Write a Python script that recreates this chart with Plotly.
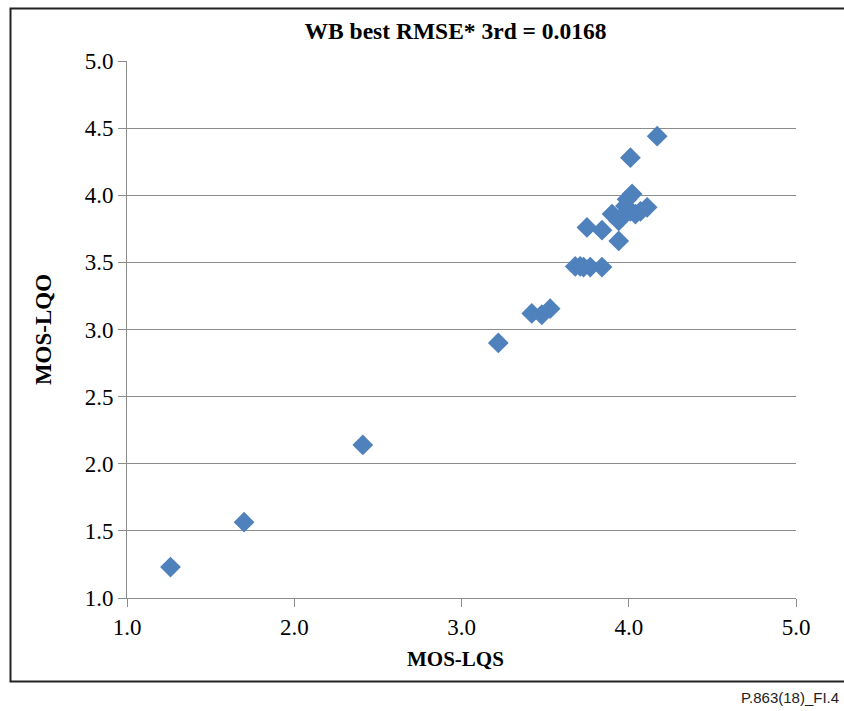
import plotly.graph_objects as go

mos_lqs = [1.26, 1.70, 2.41, 3.22, 3.42, 3.48, 3.53, 3.68, 3.71, 3.73, 3.77, 3.84,
           3.75, 3.84, 3.94, 3.90, 3.94, 3.96, 3.98, 3.99, 4.02, 4.01, 4.04, 4.07,
           4.11, 4.01, 4.17]
mos_lqo = [1.23, 1.565, 2.14, 2.90, 3.12, 3.11, 3.155, 3.47, 3.47, 3.465, 3.465, 3.465,
           3.76, 3.74, 3.66, 3.86, 3.81, 3.84, 3.92, 3.97, 4.01, 3.88, 3.86, 3.88,
           3.91, 4.28, 4.44]
tick_vals_x = [1.0, 2.0, 3.0, 4.0, 5.0]
tick_vals_y = [1.0, 1.5, 2.0, 2.5, 3.0, 3.5, 4.0, 4.5, 5.0]

W, H = 844, 711
L, R, T, B = 127, 48, 61, 113
pw, ph = W - L - R, H - T - B

def px(xp):
    return (xp - L) / pw

def py(yp):
    return 1 - (yp - T) / ph

serif = "Liberation Serif"
grey = "#8c8c8c"

fig = go.Figure(go.Scatter(
    x=mos_lqs, y=mos_lqo, mode="markers",
    marker=dict(symbol="diamond", size=16, color="#4f81bd", line=dict(width=0)),
    showlegend=False, cliponaxis=False,
))

fig.update_layout(
    width=W, height=H,
    margin=dict(l=L, r=R, t=T, b=B),
    paper_bgcolor="white", plot_bgcolor="white",
    font=dict(family=serif, color="black"),
    title=dict(text="<b>WB best RMSE* 3rd = 0.0168</b>", x=455.5 / W, xanchor="center",
               y=1 - 31 / H, yanchor="middle",
               font=dict(family=serif, size=23.5, color="black")),
    xaxis=dict(range=[1, 5], tickvals=tick_vals_x, ticktext=[f"{v:.1f}" for v in tick_vals_x],
               showgrid=False, zeroline=False, showline=True, linecolor=grey, linewidth=1,
               ticks="outside", ticklen=8, tickcolor=grey,
               tickfont=dict(family=serif, size=23, color="black")),
    yaxis=dict(range=[1, 5], tickvals=tick_vals_y, ticktext=[f"{v:.1f}" for v in tick_vals_y],
               showgrid=True, gridcolor=grey, gridwidth=1, zeroline=False,
               showline=True, linecolor=grey, linewidth=1,
               ticks="outside", ticklen=8, tickcolor=grey,
               tickfont=dict(family=serif, size=23, color="black"),
               title=dict(text="<b>MOS-LQO</b>", font=dict(family=serif, size=23, color="black"),
                          standoff=26)),
    shapes=[dict(type="rect", xref="paper", yref="paper",
                 x0=px(10.5), x1=px(860), y0=py(681.5), y1=py(8.5),
                 line=dict(color="#222222", width=2), fillcolor="rgba(0,0,0,0)", layer="below")],
    annotations=[
        dict(text="<b>MOS-LQS</b>", xref="paper", yref="paper",
             x=px(455.5), y=py(659), xanchor="center", yanchor="middle", showarrow=False,
             font=dict(family=serif, size=21, color="black")),
        dict(text="P.863(18)_FI.4", xref="paper", yref="paper",
             x=px(841), y=py(697), xanchor="right", yanchor="middle",
             showarrow=False, font=dict(family="Liberation Sans", size=15, color="#222222")),
    ],
)

fig.write_html("out.html")
